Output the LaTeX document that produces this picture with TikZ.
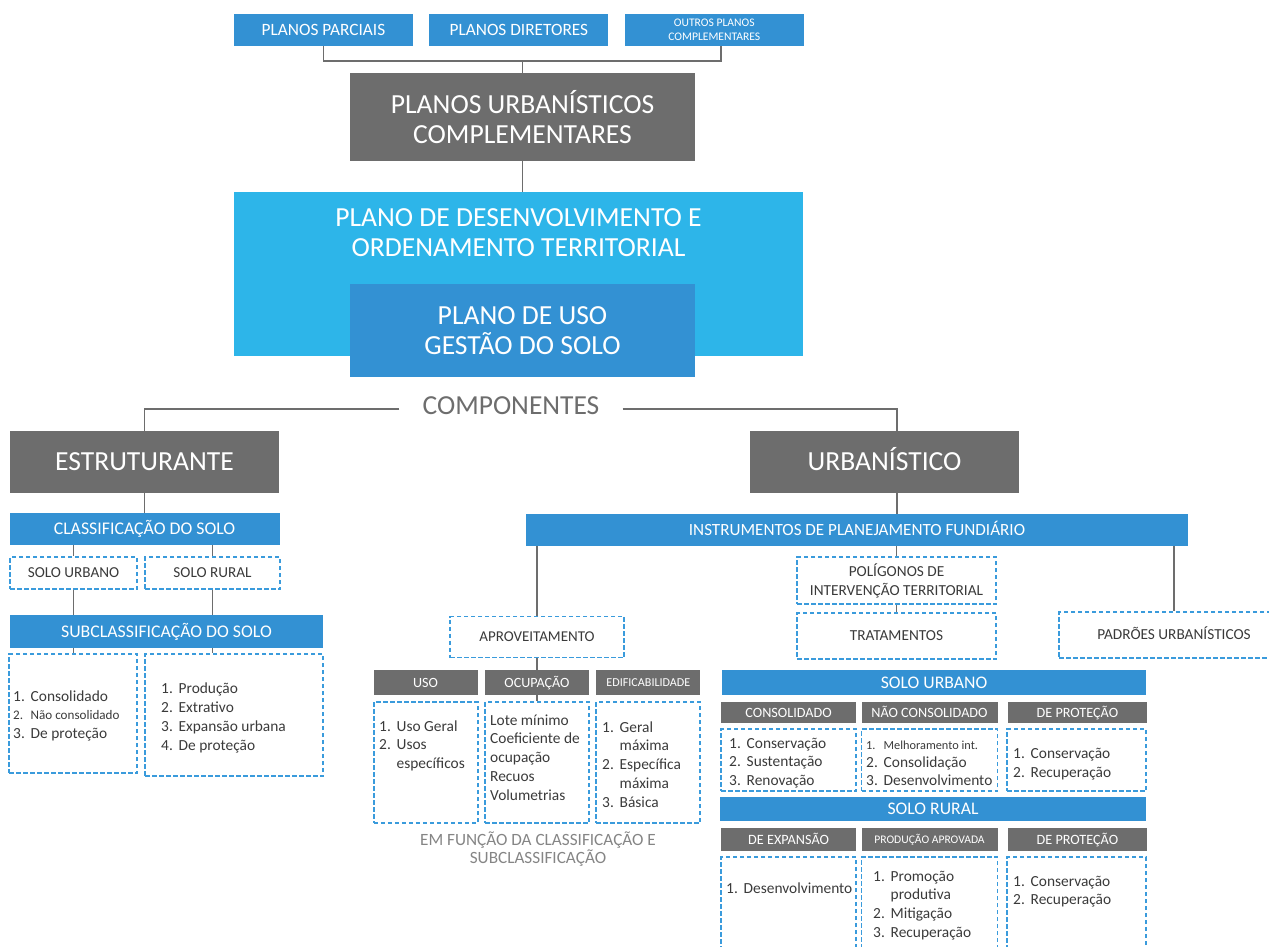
\documentclass[tikz,border=0pt]{standalone}
\usepackage{fontspec}
\setmainfont{Carlito}
\usetikzlibrary{positioning}

\definecolor{azul}{HTML}{3391D3}
\definecolor{celeste}{HTML}{2DB5E9}
\definecolor{cinza}{HTML}{6D6D6D}
\definecolor{tracos}{HTML}{3A9BDC}
\definecolor{escrita}{HTML}{3A3A3A}
\definecolor{nota}{HTML}{858585}

\newcommand{\tam}[2]{\fontsize{#1}{#2}\selectfont}
\newcommand{\itens}[1]{\begin{tabular}[t]{@{}p{17.5pt}@{}l@{}}#1\end{tabular}}
\newcommand{\linhas}[1]{\begin{tabular}[t]{@{}l@{}}#1\end{tabular}}

\tikzset{
  caixaazul/.style={fill=azul, text=white, inner sep=0pt, align=center},
  caixaceleste/.style={fill=celeste, inner sep=0pt},
  caixacinza/.style={fill=cinza, text=white, inner sep=0pt, align=center},
  caixatrac/.style={draw=tracos, line width=1.6pt, dash pattern=on 4.5pt off 2.5pt, inner sep=0pt, text=escrita, align=center},
  caps/.style={text height=#1, text depth=0pt},
  lista/.style={anchor=base west, inner sep=0pt, text=escrita},
  liga/.style={draw=cinza, line width=1.8pt},
}

\begin{document}
\begin{tikzpicture}[x=1pt,y=-1pt]
\useasboundingbox (0,0) rectangle (1269,947);

%% planos do topo
\node[caixaazul, minimum width=179pt, minimum height=32pt, font=\tam{17.3}{20}, caps=11.1pt] (parciais) at (323.5,30) {PLANOS PARCIAIS};
\node[caixaazul, minimum width=179pt, minimum height=32pt, font=\tam{17.3}{20}, caps=11.1pt, right=16pt of parciais] (diretores) {PLANOS DIRETORES};
\node[caixaazul, minimum width=179pt, minimum height=32pt, font=\tam{11.6}{13.5}, right=16pt of diretores] (outros) {OUTROS PLANOS\\COMPLEMENTARES};
\coordinate (juncao) at (522.5,61);
\node[caixacinza, minimum width=345pt, minimum height=88pt, font=\tam{27.6}{30}] (puc) at (522.5,117) {PLANOS URBANÍSTICOS\\COMPLEMENTARES};
\draw[liga] (parciais.south) |- (juncao) -| ([xshift=6.5pt]outros.south);
\draw[liga] (juncao) -- (puc.north);

%% plano de desenvolvimento
\node[caixaceleste, minimum width=569pt, minimum height=164pt] (pdot) at (518.5,274) {};
\node[text=white, align=center, font=\tam{27.6}{30}] (pdottit) at (518.5,233) {PLANO DE DESENVOLVIMENTO E\\ORDENAMENTO TERRITORIAL};
\node[caixaazul, minimum width=345pt, minimum height=93pt, font=\tam{27.6}{30}] (puso) at (522.5,330.5) {PLANO DE USO\\GESTÃO DO SOLO};
\draw[liga] (puc.south) -- (puc.south |- pdot.north);

%% componentes
\node[text=cinza, inner xsep=23pt, font=\tam{27.5}{30}, caps=17.7pt] (comp) at (511,406) {COMPONENTES};
\node[caixacinza, minimum width=269pt, minimum height=62pt, font=\tam{27.6}{30}, caps=17.8pt] (estrut) at (144.5,462) {ESTRUTURANTE};
\node[caixacinza, minimum width=269pt, minimum height=62pt, font=\tam{27.6}{30}, caps=17.8pt] (urban) at (884.5,462) {URBANÍSTICO};
\coordinate (eixo) at (897,0);
\draw[liga] ([yshift=-3pt]comp.west) -| (estrut.north);
\draw[liga] ([yshift=-3pt]comp.east) -| (urban.north -| eixo);

%% estruturante
\node[caixaazul, minimum width=270pt, minimum height=32pt, font=\tam{17.8}{20}, caps=11.5pt] (classif) at (144.5,529) {CLASSIFICAÇÃO DO SOLO};
\draw[liga] (estrut.south) -- (classif.north);
\node[caixatrac, minimum width=127pt, minimum height=32pt, font=\tam{15.2}{18}, caps=9.8pt] (solourb) at (73.5,573) {SOLO URBANO};
\node[caixatrac, minimum width=135pt, minimum height=32pt, font=\tam{15.2}{18}, caps=9.8pt] (solorur) at (212.5,573) {SOLO RURAL};
\node[caixaazul, minimum width=313pt, minimum height=33pt, font=\tam{17.8}{20}, caps=11.5pt] (subclass) at (166.5,631.5) {SUBCLASSIFICAÇÃO DO SOLO};
\node[caixatrac, minimum width=128pt, minimum height=119pt] (subu) at (73,713.5) {};
\node[caixatrac, minimum width=178pt, minimum height=122pt] (subr) at (234,715) {};
\draw[liga] (solourb.north |- classif.south) -- (solourb.north);
\draw[liga] (solorur.north |- classif.south) -- (solorur.north);
\draw[liga] (solourb.south) -- (solourb.south |- subclass.north);
\draw[liga] (solorur.south) -- (solorur.south |- subclass.north);
\draw[liga] (solourb.south |- subclass.south) -- (solourb.south |- subu.north);
\draw[liga] (solorur.south |- subclass.south) -- (solorur.south |- subr.north);
\node[lista, font=\tam{15.4}{18.6}] (lsubu) at (13,701) {\itens{1. & Consolidado\\ {\tam{13.1}{18.6}2.} & {\tam{13.1}{18.6}Não consolidado}\\ 3. & De proteção}};
\node[lista, font=\tam{15.4}{19}] (lsubr) at (161,693) {\itens{1. & Produção\\ 2. & Extrativo\\ 3. & Expansão urbana\\ 4. & De proteção}};

%% urbanistico
\node[caixaazul, minimum width=662pt, minimum height=32pt, font=\tam{17.1}{20}, caps=11pt] (instr) at (857,530) {INSTRUMENTOS DE PLANEJAMENTO FUNDIÁRIO};
\draw[liga] (urban.south -| eixo) -- (instr.north -| eixo);
\node[caixatrac, minimum width=174pt, minimum height=41pt, font=\tam{15}{18}, caps=9.7pt] (aprov) at (537,637) {APROVEITAMENTO};
\node[caixatrac, minimum width=199pt, minimum height=47pt, font=\tam{15.3}{19}] (polig) at (896.5,580.5) {POLÍGONOS DE\\INTERVENÇÃO TERRITORIAL};
\node[caixatrac, minimum width=199pt, minimum height=46pt, font=\tam{15.3}{19}, caps=9.9pt] (tratam) at (896.5,636) {TRATAMENTOS};
\node[caixatrac, minimum width=230pt, minimum height=46pt, font=\tam{15.3}{19}, caps=9.9pt] (padroes) at (1174,635) {PADRÕES URBANÍSTICOS};
\draw[liga] (aprov.north |- instr.south) -- (aprov.north);
\draw[liga] (polig.north |- instr.south) -- (polig.north);
\draw[liga] (polig.south) -- (tratam.north);
\draw[liga] (padroes.north |- instr.south) -- (padroes.north);

%% aproveitamento
\node[caixacinza, minimum width=104pt, minimum height=25pt, font=\tam{14.1}{16}, caps=9.1pt] (ocup) at (537,682.5) {OCUPAÇÃO};
\node[caixacinza, minimum width=104pt, minimum height=25pt, font=\tam{14.1}{16}, caps=9.1pt, left=7pt of ocup] (uso) {USO};
\node[caixacinza, minimum width=104pt, minimum height=25pt, font=\tam{12.1}{14}, caps=7.8pt, right=7pt of ocup] (edif) {EDIFICABILIDADE};
\draw[liga] (aprov.south) -- (ocup.north);
\node[caixatrac, minimum width=104pt, minimum height=121pt] (bocup) at (537,762.5) {};
\node[caixatrac, minimum width=104pt, minimum height=121pt, left=5.5pt of bocup] (buso) {};
\node[caixatrac, minimum width=104pt, minimum height=121pt, right=5.5pt of bocup] (bedif) {};
\draw[liga] (ocup.south) -- (bocup.north);
\node[lista, font=\tam{15.4}{18.5}] (luso) at (379,731) {\itens{1. & Uso Geral\\ 2. & Usos\\ & específicos}};
\node[lista, font=\tam{15.4}{18.75}] (locup) at (490,725) {\linhas{Lote mínimo\\Coeficiente de\\ocupação\\Recuos\\Volumetrias}};
\node[lista, font=\tam{15.4}{18.75}] (ledif) at (602,732) {\itens{1. & Geral\\ & máxima\\ 2. & Específica\\ & máxima\\ 3. & Básica}};
\node[text=nota, align=center, font=\tam{17.2}{18}] (emfuncao) at (538,849) {EM FUNÇÃO DA CLASSIFICAÇÃO E\\SUBCLASSIFICAÇÃO};

%% solo urbano
\node[caixaazul, minimum width=424pt, minimum height=25pt, font=\tam{17.7}{20}, caps=11.4pt] (sourb) at (934,682.5) {SOLO URBANO};
\node[caixacinza, minimum width=136pt, minimum height=21pt, font=\tam{14.2}{16}, caps=9.1pt] (naocons) at (929.5,712.5) {NÃO CONSOLIDADO};
\node[caixacinza, minimum width=135pt, minimum height=21pt, font=\tam{14.2}{16}, caps=9.1pt, left=5pt of naocons] (consol) {CONSOLIDADO};
\node[caixacinza, minimum width=139pt, minimum height=21pt, font=\tam{14.2}{16}, caps=9.1pt, right=10pt of naocons] (deprotu) {DE PROTEÇÃO};
\node[caixatrac, minimum width=135pt, minimum height=62pt] (bconsol) at (788.5,760) {};
\node[caixatrac, minimum width=136pt, minimum height=62pt] (bnaocons) at (929.5,760) {};
\node[caixatrac, minimum width=139pt, minimum height=62pt] (bdeprotu) at (1076.5,760) {};
\node[lista, font=\tam{15.4}{18.6}] (lconsol) at (729,748) {\itens{1. & Conservação\\ 2. & Sustentação\\ 3. & Renovação}};
\node[lista, font=\tam{15.4}{18}] (lnaocons) at (866,749) {\itens{{\tam{12.3}{18}1.} & {\tam{12.3}{18}Melhoramento int.}\\ 2. & Consolidação\\ 3. & Desenvolvimento}};
\node[lista, font=\tam{15.4}{19}] (ldeprotu) at (1013,758) {\itens{1. & Conservação\\ 2. & Recuperação}};

%% solo rural
\node[caixaazul, minimum width=426pt, minimum height=24pt, font=\tam{17.7}{20}, caps=11.4pt] (sorur) at (933,809) {SOLO RURAL};
\node[caixacinza, minimum width=136pt, minimum height=23pt, font=\tam{11.6}{14}, caps=7.5pt] (prodap) at (929.5,839.5) {PRODUÇÃO APROVADA};
\node[caixacinza, minimum width=135pt, minimum height=23pt, font=\tam{14.2}{16}, caps=9.1pt, left=5pt of prodap] (dexp) {DE EXPANSÃO};
\node[caixacinza, minimum width=139pt, minimum height=23pt, font=\tam{14.2}{16}, caps=9.1pt, right=10pt of prodap] (deprotr) {DE PROTEÇÃO};
\node[caixatrac, minimum width=135pt, minimum height=103pt] (bdexp) at (788.5,908.5) {};
\node[caixatrac, minimum width=136pt, minimum height=103pt] (bprodap) at (929.5,908.5) {};
\node[caixatrac, minimum width=139pt, minimum height=103pt] (bdeprotr) at (1076.5,908.5) {};
\node[lista, font=\tam{15.4}{18.6}] (ldexp) at (726,893) {\itens{1. & Desenvolvimento}};
\node[lista, font=\tam{15.4}{18.7}] (lprodap) at (873,881) {\itens{1. & Promoção\\ & produtiva\\ 2. & Mitigação\\ 3. & Recuperação}};
\node[lista, font=\tam{15.4}{18}] (ldeprotr) at (1013,886) {\itens{1. & Conservação\\ 2. & Recuperação}};

\end{tikzpicture}
\end{document}
